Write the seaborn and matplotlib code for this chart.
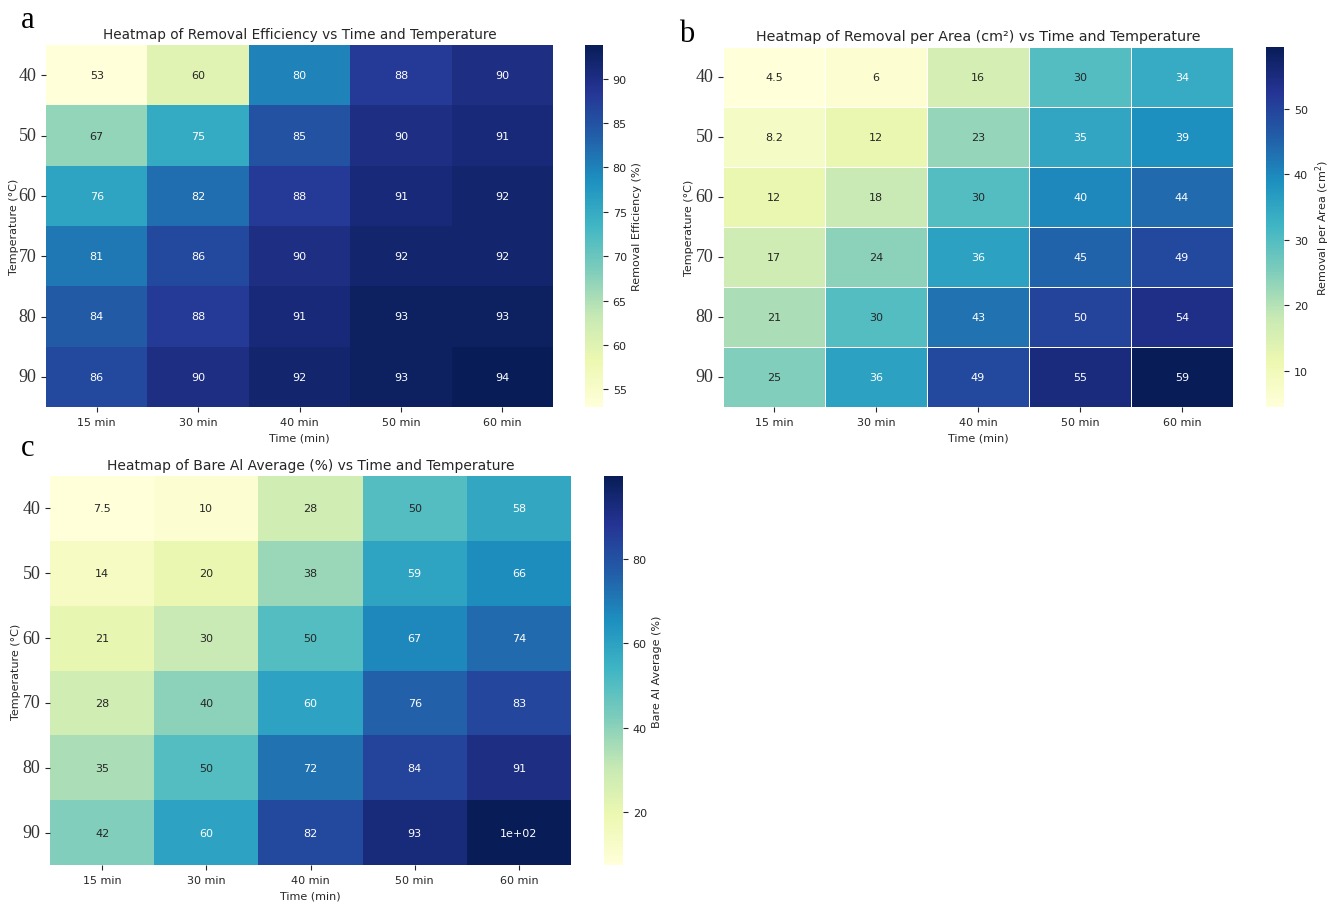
import numpy as np
import pandas as pd
import matplotlib
matplotlib.use("Agg")
import matplotlib.pyplot as plt
import seaborn as sns

# ------------------------------------------------------------------
# Data
# ------------------------------------------------------------------
time_labels = ['15 min', '30 min', '40 min', '50 min', '60 min']
temperatures = [40, 50, 60, 70, 80, 90]

removal_efficiency = [
    [53, 60, 80, 88, 90],
    [67, 75, 85, 90, 91],
    [76, 82, 88, 91, 92],
    [81, 86, 90, 92, 92],
    [84, 88, 91, 93, 93],
    [86, 90, 92, 93, 93.8],
]

removal_per_area = [
    [4.5, 6, 16, 30, 34],
    [8.2, 12, 23, 35, 39],
    [12, 18, 30, 40, 44],
    [17, 24, 36, 45, 49],
    [21, 30, 43, 50, 54],
    [25, 36, 49, 55, 59.4],
]

bare_al_average = [
    [7.5, 10, 28, 50, 58],
    [14, 20, 38, 59, 66],
    [21, 30, 50, 67, 74],
    [28, 40, 60, 76, 83],
    [35, 50, 72, 84, 91],
    [42, 60, 82, 93, 99.6],
]

plt.rcParams['font.family'] = ['DejaVu Sans']
plt.rcParams['text.color'] = '#262626'
plt.rcParams['axes.labelcolor'] = '#262626'
plt.rcParams['xtick.color'] = '#262626'
plt.rcParams['ytick.color'] = '#262626'

W, H = 1340, 912
fig = plt.figure(figsize=(W / 100, H / 100), dpi=100)


def box(x0, y0, x1, y1):
    # pixel box (top-left origin) -> figure fraction
    return [x0 / W, 1 - y1 / H, (x1 - x0) / W, (y1 - y0) / H]


panels = [
    dict(data=removal_efficiency, ax=box(46, 46, 553, 408), cax=box(585, 46, 603, 408),
         title='Heatmap of Removal Efficiency vs Time and Temperature', tsize=9.8,
         cbar_label='Removal Efficiency (%)', lines=0, letter='a', lpos=(28, 20),
         ylab_x=-0.054),
    dict(data=removal_per_area, ax=box(723, 48, 1233, 408), cax=box(1266, 48, 1284, 408),
         title='Heatmap of Removal per Area (cm²) vs Time and Temperature', tsize=10.3,
         cbar_label='Removal per Area (cm$^2$)', lines=0.5, letter='b', lpos=(687, 34),
         ylab_x=-0.056),
    dict(data=bare_al_average, ax=box(50, 477, 571, 866), cax=box(604, 477, 623, 866),
         title='Heatmap of Bare Al Average (%) vs Time and Temperature', tsize=10,
         cbar_label='Bare Al Average (%)', lines=0, letter='c', lpos=(28, 449),
         ylab_x=-0.055),
]

for p in panels:
    df = pd.DataFrame(p['data'], index=temperatures, columns=time_labels)
    ax = fig.add_axes(p['ax'])
    cax = fig.add_axes(p['cax'])
    sns.heatmap(df, ax=ax, cbar_ax=cax, cmap='YlGnBu', annot=True,
                annot_kws={'fontsize': 8}, linewidths=p['lines'], linecolor='white',
                cbar_kws={'label': p['cbar_label']})
    ax.set_title(p['title'], fontsize=p['tsize'], pad=5)
    ax.set_xlabel('Time (min)', fontsize=8)
    ax.set_ylabel('Temperature (°C)', fontsize=8)
    ax.yaxis.set_label_coords(p['ylab_x'], 0.5)
    ax.tick_params(axis='x', labelsize=8, rotation=0)
    ax.tick_params(axis='y', rotation=0)
    for lab in ax.get_yticklabels():
        lab.set_fontfamily('Liberation Serif')
        lab.set_fontsize(13)
        lab.set_color('#333333')
    cax.tick_params(labelsize=8)
    cax.yaxis.label.set_size(8)
    fig.text(p['lpos'][0] / W, 1 - p['lpos'][1] / H, p['letter'],
             fontfamily='Liberation Serif', fontsize=22, color='black',
             ha='center', va='center')

fig.savefig('out.png', dpi=100, facecolor='white')
